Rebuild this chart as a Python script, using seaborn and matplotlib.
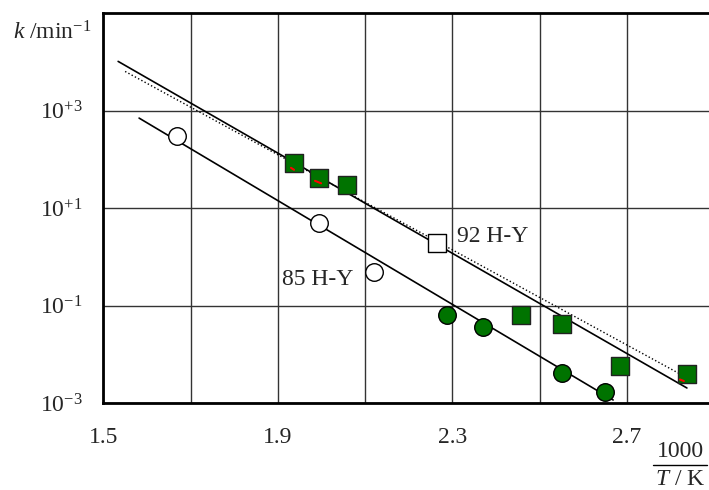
import numpy as np
import pandas as pd
import matplotlib
matplotlib.use("Agg")
import matplotlib.pyplot as plt
from matplotlib.lines import Line2D
import seaborn as sns

# Inverse temperature, 1000/(T/K)
open_circle_x = [1.668, 1.995, 2.120]
open_circle_k = [10**2.483, 10**0.692, 10**-0.300]

green_circle_x = [2.288, 2.371, 2.550, 2.650]
green_circle_k = [10**-1.195, 10**-1.429, 10**-2.378, 10**-2.768]

green_square_x = [1.938, 1.995, 2.058, 2.457, 2.550, 2.684, 2.837]
green_square_k = [10**1.923, 10**1.615, 10**1.472, 10**-1.189, 10**-1.373,
                  10**-2.235, 10**-2.393]

open_square_x = [2.265]
open_square_k = [10**0.289]

# Arrhenius fit lines (end points)
fit92_x = [1.534, 2.837]
fit92_k = [10**4.008, 10**-2.686]
fit92_dot_x = [1.550, 2.817]
fit92_dot_k = [10**3.802, 10**-2.378]
fit85_x = [1.582, 2.668]
fit85_k = [10**2.846, 10**-2.932]

# small red error strokes inside some squares
err_x = [[1.930, 1.937], [1.985, 1.999], [2.821, 2.830]]
err_k = [[10**1.827, 10**1.786], [10**1.560, 10**1.509], [10**-2.512, 10**-2.543]]

x_ticks = [1.5, 1.7, 1.9, 2.1, 2.3, 2.5, 2.7]
x_labels = ["1.5", "", "1.9", "", "2.3", "", "2.7"]
y_ticks = [1e-3, 1e-1, 1e1, 1e3]
y_labels = [r"10$^{-3}$", r"10$^{-1}$", r"10$^{+1}$", r"10$^{+3}$"]

sns.set_style("white")
plt.rcParams["font.family"] = ["Liberation Serif", "DejaVu Serif"]
plt.rcParams["mathtext.fontset"] = "custom"
plt.rcParams["mathtext.rm"] = "Liberation Serif"
plt.rcParams["mathtext.it"] = "Liberation Serif:italic"
plt.rcParams["mathtext.bf"] = "Liberation Serif:bold"

W, H = 709, 490
fig = plt.figure(figsize=(W / 100, H / 100), dpi=100)
ax = fig.add_axes([103.3 / W, 1 - 403.3 / H, (W - 103.3) / W, (403.3 - 13) / H])

green = "#007300"
fs = 17

for xs, ks, ls in [(fit92_x, fit92_k, "-"), (fit92_dot_x, fit92_dot_k, ":"),
                   (fit85_x, fit85_k, "-")]:
    sns.lineplot(x=xs, y=ks, ax=ax, color="black", lw=1.2 if ls == "-" else 1.0,
                 linestyle=ls, zorder=3)

ms = 160
sns.scatterplot(x=open_circle_x, y=open_circle_k, ax=ax, marker="o", s=ms,
                facecolor="white", edgecolor="black", linewidth=1.0, zorder=4)
sns.scatterplot(x=green_circle_x, y=green_circle_k, ax=ax, marker="o", s=ms,
                color=green, edgecolor="black", linewidth=1.0, zorder=4)
sns.scatterplot(x=green_square_x, y=green_square_k, ax=ax, marker="s", s=ms,
                color=green, edgecolor="#222222", linewidth=1.0, zorder=4)
sns.scatterplot(x=open_square_x, y=open_square_k, ax=ax, marker="s", s=ms,
                facecolor="white", edgecolor="black", linewidth=1.0, zorder=4)

for xs, ks in zip(err_x, err_k):
    sns.lineplot(x=xs, y=ks, ax=ax, color="red", lw=1.5, zorder=5)

ax.set_yscale("log")
ax.set_xlim(1.5, 1.5 + (W - 103.3) / 436.5)
ax.set_ylim(1e-3, 1e5)

ax.set_xticks(x_ticks)
ax.set_xticklabels(x_labels, fontsize=fs)
ax.set_yticks(y_ticks)
ax.set_yticklabels(y_labels, fontsize=fs)
ax.yaxis.set_minor_locator(matplotlib.ticker.NullLocator())
ax.tick_params(axis="both", direction="out", length=6, width=1.2, color="black",
               pad=9)
ax.tick_params(axis="x", pad=11)
ax.grid(True, color="#333333", lw=1.0)
ax.set_axisbelow(True)

for side in ["left", "bottom", "top"]:
    ax.spines[side].set_visible(True)
    ax.spines[side].set_linewidth(2.0)
    ax.spines[side].set_color("black")
ax.spines["right"].set_visible(False)
ax.set_xlabel("")
ax.set_ylabel("")

ax.text(2.310, 10**0.41, "92 H-Y", fontsize=fs, ha="left", va="center", zorder=5)
ax.text(2.073, 10**-0.47, "85 H-Y", fontsize=fs, ha="right", va="center", zorder=5)

fig.text(13 / W, 1 - 40 / H, r"$k$ /min$^{-1}$", fontsize=fs,
         ha="left", va="baseline")

fig.text(680 / W, 1 - 457 / H, "1000", fontsize=fs, ha="center", va="baseline")
fig.add_artist(Line2D([653 / W, 707 / W], [1 - 465 / H, 1 - 465 / H],
                      color="black", lw=1.0, transform=fig.transFigure))
fig.text(680 / W, 1 - 485 / H, r"$T$ / K", fontsize=fs, ha="center",
         va="baseline")

fig.savefig("out.png", dpi=100)
